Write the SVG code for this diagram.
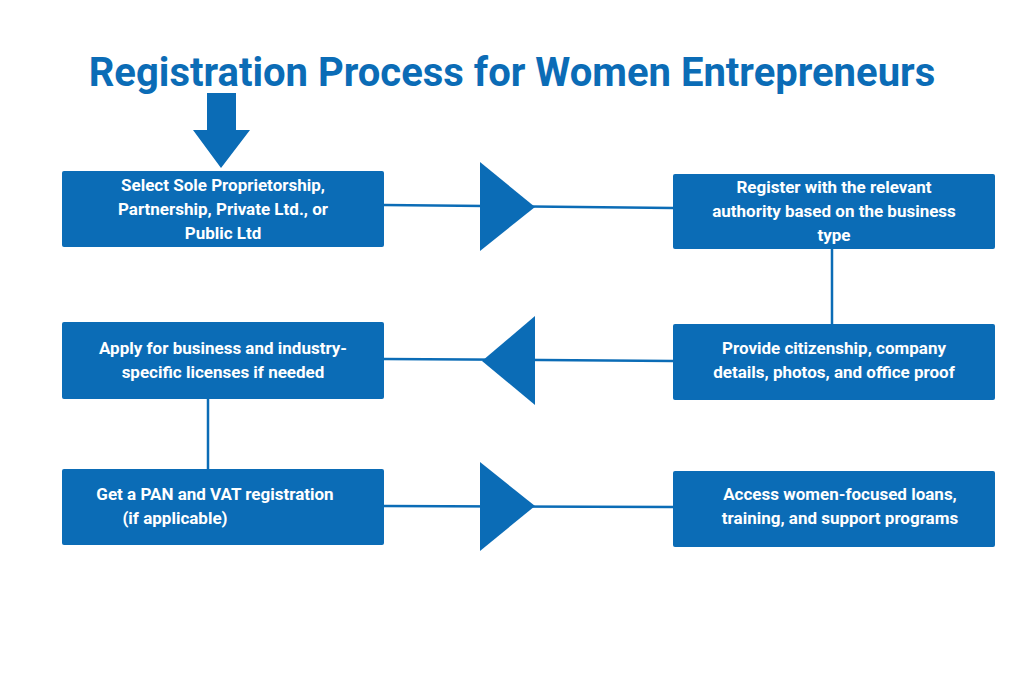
<svg xmlns="http://www.w3.org/2000/svg" width="1024" height="683" viewBox="0 0 1024 683">
<style>
.box{fill:#0b6cb6;}
.t{font-family:Roboto,"Liberation Sans",sans-serif;font-weight:bold;font-size:17px;fill:#fff;text-anchor:middle;}
.ln{stroke:#0b6cb6;stroke-width:2.5;fill:none;}
.tri{fill:#0b6cb6;}
</style>
<rect width="1024" height="683" fill="#fff"/>
<text x="512" y="86" font-family="Roboto,'Liberation Sans',sans-serif" font-weight="bold" font-size="40" fill="#0b6cb6" text-anchor="middle">Registration Process for Women Entrepreneurs</text>
<polygon points="207,93 236,93 236,130 250,130 221,168 193,130 207,130" fill="#0b6cb6"/>
<g id="connectors">
<line class="ln" x1="384" y1="205" x2="673" y2="208"/>
<polygon class="tri" points="480,162 535,207 480,251"/>
<line class="ln" x1="832" y1="249" x2="832" y2="324"/>
<line class="ln" x1="384" y1="359" x2="673" y2="361"/>
<polygon class="tri" points="535,316 482,361 535,405"/>
<line class="ln" x1="208" y1="399" x2="208" y2="469"/>
<line class="ln" x1="384" y1="506" x2="673" y2="507"/>
<polygon class="tri" points="480,462 535,506 480,551"/>
</g>
<g id="n1"><rect class="box" x="62" y="171" width="322" height="76" rx="2"/>
<text class="t" x="223" y="191">Select Sole Proprietorship,</text>
<text class="t" x="223" y="215">Partnership, Private Ltd., or</text>
<text class="t" x="223" y="239">Public Ltd</text></g>
<g id="n2"><rect class="box" x="673" y="174" width="322" height="75" rx="2"/>
<text class="t" x="834" y="193">Register with the relevant</text>
<text class="t" x="834" y="217">authority based on the business</text>
<text class="t" x="834" y="241">type</text></g>
<g id="n3"><rect class="box" x="673" y="324" width="322" height="76" rx="2"/>
<text class="t" x="834" y="354">Provide citizenship, company</text>
<text class="t" x="834" y="378">details, photos, and office proof</text></g>
<g id="n4"><rect class="box" x="62" y="322" width="322" height="77" rx="2"/>
<text class="t" x="223" y="354">Apply for business and industry-</text>
<text class="t" x="223" y="378">specific licenses if needed</text></g>
<g id="n5"><rect class="box" x="62" y="469" width="322" height="76" rx="2"/>
<text class="t" x="215" y="500">Get a PAN and VAT registration</text>
<text class="t" x="175" y="524">(if applicable)</text></g>
<g id="n6"><rect class="box" x="673" y="471" width="322" height="76" rx="2"/>
<text class="t" x="840" y="500">Access women-focused loans,</text>
<text class="t" x="840" y="524">training, and support programs</text></g>
</svg>
